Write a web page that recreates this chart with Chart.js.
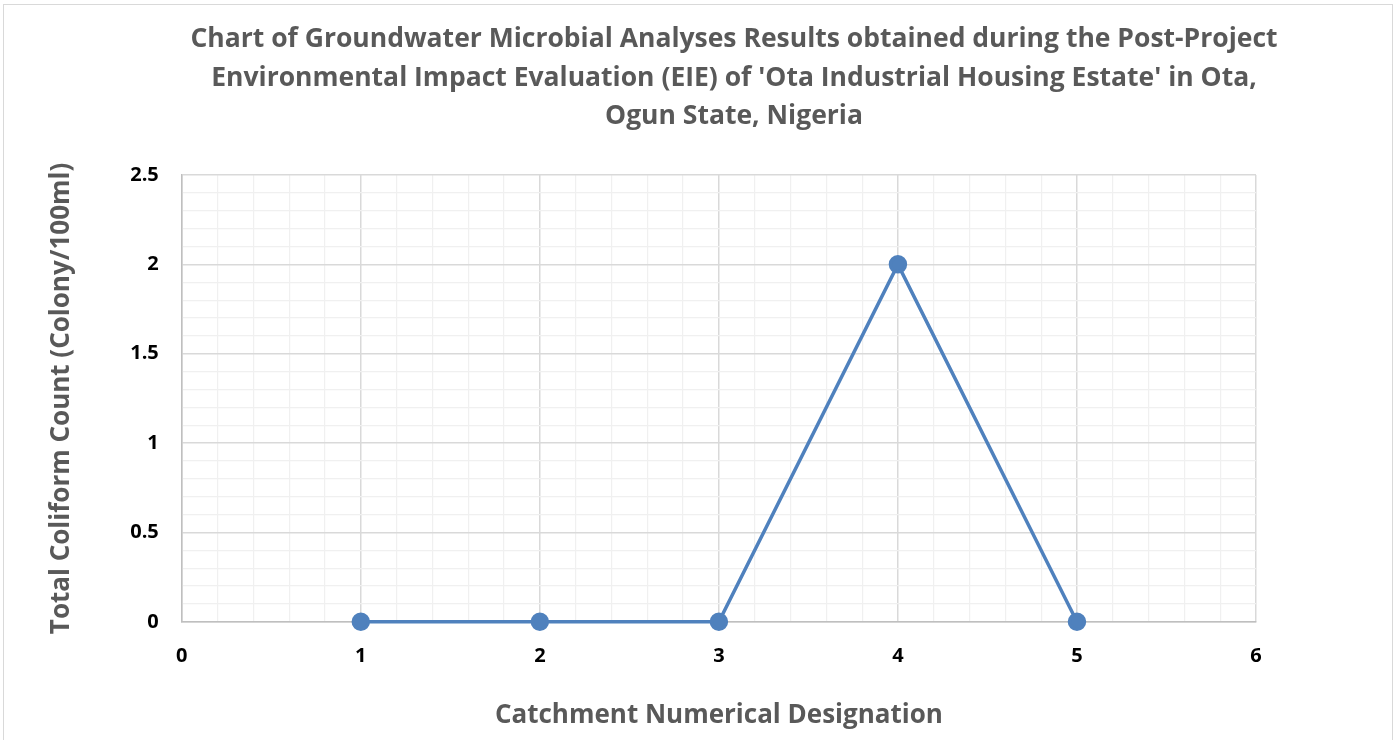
<!DOCTYPE html>
<html>
<head>
<meta charset="utf-8">
<script src="https://cdn.jsdelivr.net/npm/chart.js@4/dist/chart.umd.min.js"></script>
<style>
  html, body { margin: 0; padding: 0; background: #fff; }
  #frame { position: absolute; left: 3px; top: 4px; width: 1390px; height: 760px;
           border: 1px solid #d9d9d9; box-sizing: border-box; }
  #wrap { position: absolute; left: 0; top: 0; width: 1400px; height: 740px; }
  #title { position: absolute; left: 134px; width: 1200px; top: 18px; text-align: center;
           font: bold 26.5px/38.5px 'Open Sans', sans-serif; color: #595959; white-space: nowrap; }
</style>
</head>
<body>
<div id="frame"></div>
<div id="wrap"><canvas id="c"></canvas></div>
<div id="title"></div>
<script>
// Total coliform count per catchment (colony/100ml)
const catchments = [1, 2, 3, 4, 5];
const coliform = [0, 0, 0, 2, 0];
const titleLines = [
  "Chart of Groundwater Microbial Analyses Results obtained during the Post-Project",
  "Environmental Impact Evaluation (EIE) of 'Ota Industrial Housing Estate' in Ota,",
  "Ogun State, Nigeria",
];
const xTitle = "Catchment Numerical Designation";
const yTitle = "Total Coliform Count (Colony/100ml)";

const FONT = "'Open Sans', 'DejaVu Sans', sans-serif";
const GREY = "#595959";
const BLUE = "#4f81bd";

// title sits off-centre (over the plot), so it is plain text above the canvas
document.getElementById("title").innerHTML = titleLines.join("<br>");

// major lines every 1 (x) / 0.5 (y), minor every 0.2 / 0.1
const isMajor = (v, step) => Math.abs(v / step - Math.round(v / step)) < 1e-6;

new Chart(document.getElementById("c"), {
  type: "scatter",
  data: {
    datasets: [{
      data: catchments.map((x, i) => ({ x, y: coliform[i] })),
      showLine: true, clip: false,
      borderColor: BLUE, backgroundColor: BLUE,
      borderWidth: 3.5, pointRadius: 7.5, pointHoverRadius: 7.5,
    }],
  },
  options: {
    responsive: true, maintainAspectRatio: false, animation: false,
    layout: { padding: { left: 42, right: 144, top: 175, bottom: 5 } },
    plugins: {
      legend: { display: false },
      tooltip: { enabled: false },
    },
    scales: {
      x: {
        min: 0, max: 6,
        ticks: {
          stepSize: 0.2, autoSkip: false, maxRotation: 0, color: "#000",
          font: { family: FONT, size: 20, weight: "bold" }, padding: 22,
          callback: (v) => (isMajor(v, 1) ? Math.round(v) : ""),
        },
        grid: {
          color: (c) => (isMajor(c.tick.value, 1) ? "#d9d9d9" : "#f0f0f0"),
          lineWidth: (c) => (isMajor(c.tick.value, 1) ? 1.5 : 1.2),
          drawTicks: false,
        },
        border: { color: "#bfbfbf", width: 1.5 },
        title: { display: true, text: xTitle, color: GREY, padding: { top: 10 },
                 font: { family: FONT, size: 26, weight: "bold" } },
      },
      y: {
        min: 0, max: 2.5,
        ticks: {
          stepSize: 0.1, autoSkip: false, color: "#000",
          font: { family: FONT, size: 20, weight: "bold" }, padding: 23,
          callback: (v) => (isMajor(v, 0.5) ? String(Math.round(v * 10) / 10) : ""),
        },
        grid: {
          color: (c) => (isMajor(c.tick.value, 0.5) ? "#d9d9d9" : "#f0f0f0"),
          lineWidth: (c) => (isMajor(c.tick.value, 0.5) ? 1.5 : 1.2),
          drawTicks: false,
        },
        border: { color: "#bfbfbf", width: 1.5 },
        title: { display: true, text: yTitle, color: GREY, padding: { bottom: 30 },
                 font: { family: FONT, size: 26, weight: "bold" } },
      },
    },
  },
});
</script>
</body>
</html>
